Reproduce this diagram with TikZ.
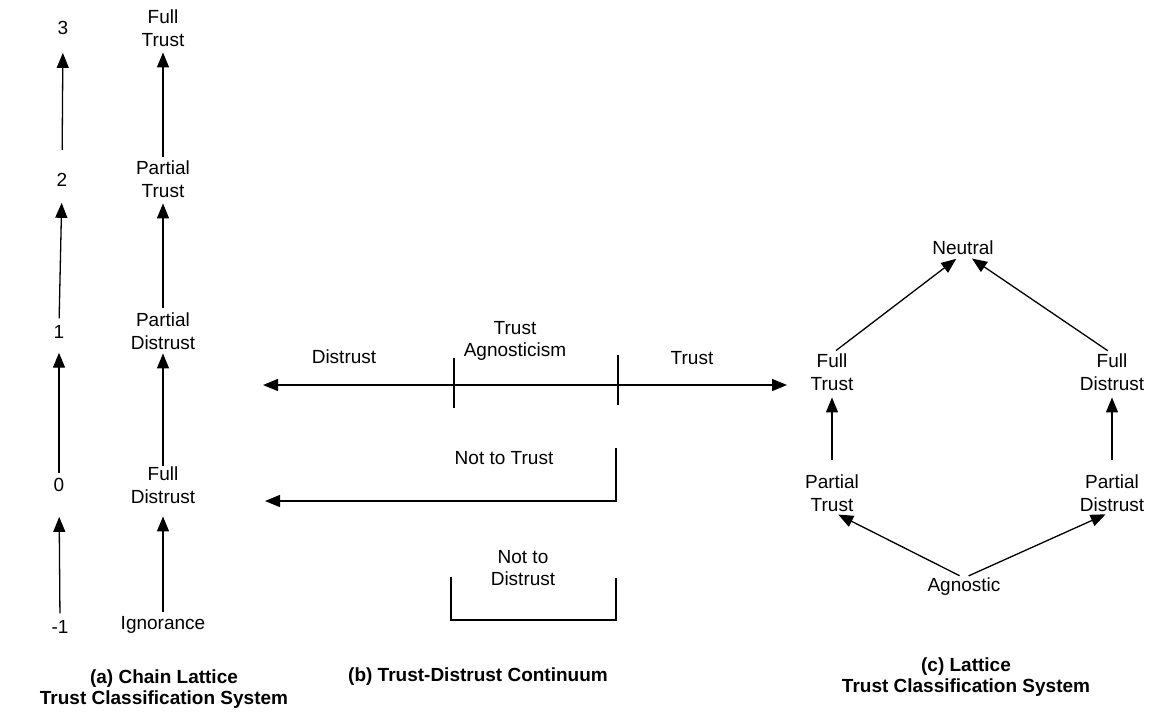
\documentclass[tikz,border=0pt]{standalone}
\usepackage{fontspec}
\setmainfont{Liberation Sans}
\usetikzlibrary{arrows.meta}
\begin{document}
\begin{tikzpicture}[x=1pt,y=-1pt,
  every node/.style={inner sep=0pt, align=center, font=\fontsize{19}{22.5}\selectfont},
  caption/.style={font=\fontsize{19}{21}\selectfont\bfseries},
  plainline/.style={line width=1.3pt},
  tip/.tip={Triangle[length=15pt,width=12pt]},
  link/.style={plainline, -tip},
  gap/.style 2 args={shorten <=#1pt, shorten >=#2pt}]
\path[use as bounding box] (0,0) rectangle (1151,713);

% (a) chain lattice: numeric levels
\node (a3) at (63,28) {3};
\node (a2) at (62,180) {2};
\node (a1) at (59,332) {1};
\node (a0) at (59,485) {0};
\node (am) at (60,627) {-1};
\draw[link, gap={23}{18}] (a2.north) -- (a3.south);
\draw[link, gap={7}{16}] (a1.north) -- (a2.south);
\draw[link, gap={5}{14}] (a0.north) -- (a1.south);
\draw[link, gap={7}{25}] (am.north) -- (a0.south);

% (a) chain lattice: named levels
\node (ft) at (163,28) {Full\\Trust};
\node (pt) at (163,179) {Partial\\Trust};
\node (pd) at (163,331) {Partial\\Distrust};
\node (fd) at (163,485) {Full\\Distrust};
\node (ig) at (163,625) {Ignorance};
\draw[link, gap={4}{6}] (pt.north) -- (ft.south);
\draw[link, gap={5}{6}] (pd.north) -- (pt.south);
\draw[link, gap={1}{4}] (fd.north) -- (pd.south);
\draw[link, gap={4}{13}] (ig.north) -- (fd.south);

\node[caption] (capa) at (164,689) {(a) Chain Lattice\\Trust Classification System};

% (b) trust-distrust continuum
\node (dis) at (344,357) {Distrust};
\node (agn) at (515,341) {Trust\\Agnosticism};
\node (tru) at (692,358) {Trust};
\coordinate (dl) at (263,385);
\coordinate (dr) at (787,385);
\draw[plainline, tip-tip] (dl) -- (dr);
\draw[plainline] (454,358) -- (454,408);
\draw[plainline] (618,355) -- (618,405);

\node (nt) at (504,458) {Not to Trust};
\coordinate (ntc) at (616,448);
\coordinate (ntl) at (265,501);
\draw[link] (ntc) |- (ntl);

\node (nd) at (523,568) {Not to\\Distrust};
\draw[plainline] (451,577) |- (616,620) -- (616,578);

\node[caption] (capb) at (478,677) {(b) Trust-Distrust Continuum};

% (c) lattice
\node (neu) at (963,248) {Neutral};
\node (lft) at (832,372) {Full\\Trust};
\node (lfd) at (1112,372) {Full\\Distrust};
\node (lpt) at (832,493) {Partial\\Trust};
\node (lpd) at (1112,493) {Partial\\Distrust};
\node (lag) at (964,587) {Agnostic};
\draw[link, gap={5}{6}] (lft.north) -- ([xshift=-2pt]neu.south);
\draw[link, gap={5}{6}] (lfd.north) -- ([xshift=4pt]neu.south);
\draw[link, gap={15}{7}] (lpt.north) -- (lft.south);
\draw[link, gap={15}{7}] (lpd.north) -- (lfd.south);
\draw[link, gap={5}{7}] (lag.north) -- (lpt.south);
\draw[link, gap={5}{7}] (lag.north) -- (lpd.south);

\node[caption] (capc) at (966,677) {(c) Lattice\\Trust Classification System};
\end{tikzpicture}
\end{document}
